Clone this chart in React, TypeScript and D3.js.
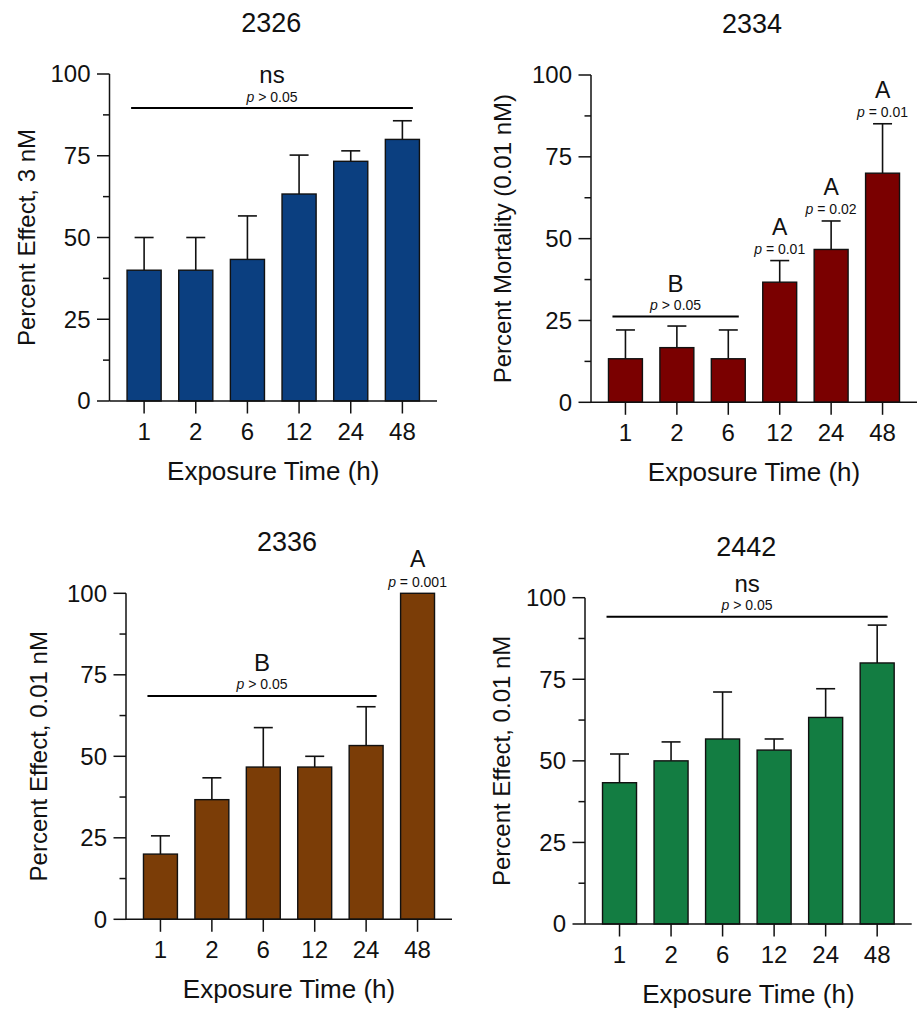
import React from 'react';
import * as d3 from 'd3';

// exposure times (h), shared by all four panels
const times = ['1', '2', '6', '12', '24', '48'];

// mean percent effect and upper SD per strain
const mean2326 = [40, 40, 43.3, 63.3, 73.3, 80];
const sd2326 = [10, 10, 13.3, 11.9, 3.2, 5.7];
const mean2334 = [13.3, 16.7, 13.3, 36.7, 46.7, 70];
const sd2334 = [8.8, 6.6, 8.8, 6.6, 8.7, 15.1];
const mean2336 = [20, 36.7, 46.7, 46.7, 53.3, 100];
const sd2336 = [5.6, 6.7, 12.1, 3.3, 11.9, 0];
const mean2442 = [43.3, 50, 56.7, 53.3, 63.3, 80];
const sd2442 = [8.8, 5.8, 14.4, 3.4, 8.8, 11.6];

const yTicks = [0, 25, 50, 75, 100];
const yMinorTicks = [12.5, 37.5, 62.5, 87.5];

// bracket annotations: label, p text, first bar, last bar, height (in % units)
const groups2326 = [{ label: 'ns', p: '> 0.05', from: '1', to: '48', at: 89.6 }];
const groups2334 = [{ label: 'B', p: '> 0.05', from: '1', to: '6', at: 26.2 }];
const groups2336 = [{ label: 'B', p: '> 0.05', from: '1', to: '24', at: 68.5 }];
const groups2442 = [{ label: 'ns', p: '> 0.05', from: '1', to: '48', at: 94.2 }];

// single bar annotations
const marks2334 = [
  { bar: '12', label: 'A', p: '= 0.01' },
  { bar: '24', label: 'A', p: '= 0.02' },
  { bar: '48', label: 'A', p: '= 0.01' },
];
const marks2336 = [{ bar: '48', label: 'A', p: '= 0.001' }];

const FONT = '"Liberation Sans", Arial, Helvetica, sans-serif';

type Group = { label: string; p: string; from: string; to: string; at: number };
type Mark = { bar: string; label: string; p: string };

type PanelProps = {
  title: string;
  yTitle: string;
  means: number[];
  sds: number[];
  color: string;
  groups: Group[];
  marks: Mark[];
  left: number;
  right: number;
  top: number;
  bottom: number;
  yTitleGap: number;
};

const PText = ({ x, y, p }: { x: number; y: number; p: string }) => (
  <text x={x} y={y} textAnchor="middle" fontSize={14} fill="#111">
    <tspan fontStyle="italic">p</tspan>
    <tspan> {p}</tspan>
  </text>
);

const Panel = (props: PanelProps) => {
  const { title, yTitle, means, sds, color, groups, marks, left, right, top, bottom, yTitleGap } = props;

  const x = d3.scaleBand<string>()
    .domain(times)
    .range([left, right])
    .paddingInner(0.34)
    .paddingOuter(0.34);
  const y = d3.scaleLinear().domain([0, 100]).range([bottom, top]);
  const bw = x.bandwidth();
  const cx = (t: string) => (x(t) as number) + bw / 2;
  const midX = (left + right) / 2;
  const midY = (top + bottom) / 2;

  return (
    <g fontFamily={FONT}>
      <text x={midX - 2} y={top - 42} textAnchor="middle" fontSize={27} fill="#111">{title}</text>

      {/* bars + error bars */}
      {times.map((t, i) => {
        const top0 = y(means[i]);
        const errY = y(means[i] + sds[i]);
        return (
          <g key={t}>
            {sds[i] > 0 && (
              <g stroke="#111" strokeWidth={1.6}>
                <line x1={cx(t)} x2={cx(t)} y1={top0} y2={errY} />
                <line x1={cx(t) - 9.5} x2={cx(t) + 9.5} y1={errY} y2={errY} />
              </g>
            )}
            <rect x={x(t)} y={top0} width={bw} height={bottom - top0}
              fill={color} stroke="#111" strokeWidth={1.4} />
          </g>
        );
      })}

      {/* y axis */}
      <line x1={left} x2={left} y1={top} y2={bottom} stroke="#111" strokeWidth={1.5} />
      {yTicks.map((v) => (
        <g key={v}>
          <line x1={left - 12.5} x2={left} y1={y(v)} y2={y(v)} stroke="#111" strokeWidth={1.5} />
          <text x={left - 19} y={y(v)} dy="0.35em" textAnchor="end" fontSize={24} fill="#111">{v}</text>
        </g>
      ))}
      {yMinorTicks.map((v) => (
        <line key={v} x1={left - 6.5} x2={left} y1={y(v)} y2={y(v)} stroke="#111" strokeWidth={1.5} />
      ))}
      <text transform={`translate(${left - yTitleGap},${midY}) rotate(-90)`} textAnchor="middle"
        fontSize={24} fill="#111">{yTitle}</text>

      {/* x axis */}
      <line x1={left} x2={right} y1={bottom} y2={bottom} stroke="#111" strokeWidth={1.5} />
      {times.map((t) => (
        <g key={t}>
          <line x1={cx(t)} x2={cx(t)} y1={bottom} y2={bottom + 12.5} stroke="#111" strokeWidth={1.5} />
          <text x={cx(t)} y={bottom + 39} textAnchor="middle" fontSize={24} fill="#111">{t}</text>
        </g>
      ))}
      <text x={midX} y={bottom + 79} textAnchor="middle" fontSize={26} fill="#111">Exposure Time (h)</text>

      {/* group brackets */}
      {groups.map((g, i) => {
        const x1 = cx(g.from) - 13;
        const x2 = cx(g.to) + 10.5;
        const gy = y(g.at);
        const gm = (x1 + x2) / 2;
        return (
          <g key={i}>
            <line x1={x1} x2={x2} y1={gy} y2={gy} stroke="#000" strokeWidth={2} />
            <text x={gm} y={gy - 25} textAnchor="middle" fontSize={24} fill="#111">{g.label}</text>
            <PText x={gm} y={gy - 6.5} p={g.p} />
          </g>
        );
      })}

      {/* single bar letters */}
      {marks.map((m) => {
        const i = times.indexOf(m.bar);
        const my = y(means[i] + sds[i]);
        return (
          <g key={m.bar}>
            <text x={cx(m.bar)} y={my - 26} textAnchor="middle" fontSize={23} fill="#111">{m.label}</text>
            <PText x={cx(m.bar)} y={my - 6.5} p={m.p} />
          </g>
        );
      })}
    </g>
  );
};

const App = () => (
  <div style={{ position: 'absolute', left: 0, top: 0, background: '#fff' }}>
    <svg width={918} height={1010} style={{ display: 'block' }}>
      <rect width={918} height={1010} fill="#fff" />
      <Panel title="2326" yTitle="Percent Effect, 3 nM" means={mean2326} sds={sd2326}
        color="#0b3f80" groups={groups2326} marks={[]}
        left={109.5} right={437} top={74} bottom={401} yTitleGap={75} />
      <Panel title="2334" yTitle="Percent Mortality (0.01 nM)" means={mean2334} sds={sd2334}
        color="#7a0000" groups={groups2334} marks={marks2334}
        left={591} right={917} top={75} bottom={402.3} yTitleGap={80} />
      <Panel title="2336" yTitle="Percent Effect, 0.01 nM" means={mean2336} sds={sd2336}
        color="#7b3d07" groups={groups2336} marks={marks2336}
        left={126} right={452} top={593.3} bottom={919.3} yTitleGap={79} />
      <Panel title="2442" yTitle="Percent Effect, 0.01 nM" means={mean2442} sds={sd2442}
        color="#137d42" groups={groups2442} marks={[]}
        left={585} right={911.7} top={597.7} bottom={924} yTitleGap={75} />
    </svg>
  </div>
);

export default App;
